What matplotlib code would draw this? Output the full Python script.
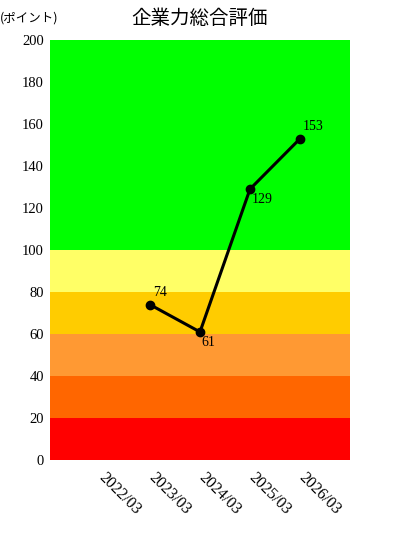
import numpy as np
import matplotlib.pyplot as plt

# データ
periods = ['2022/03', '2023/03', '2024/03', '2025/03', '2026/03']
scores = [np.nan, 74, 61, 129, 153]
label_pos = ['above', 'above', 'below', 'below', 'above']

# 評価帯 (下限, 上限, 色)
band_edges = [0, 20, 40, 60, 80, 100, 200]
band_colors = ['#FF0000', '#FF6600', '#FF9933', '#FFCC00', '#FFFF66', '#00FF00']

serif = ['Liberation Serif', 'DejaVu Serif']
jp = ['Noto Sans CJK JP', 'DejaVu Sans']

fig = plt.figure(figsize=(4, 5.4), dpi=100)
ax = fig.add_axes([0.125, 0.148, 0.75, 0.778])

for lo, hi, c in zip(band_edges[:-1], band_edges[1:], band_colors):
    ax.axhspan(lo, hi, color=c, lw=0, zorder=0)

x = np.arange(len(periods))
ax.plot(x, scores, color='black', lw=2.2, marker='o', ms=6, zorder=3)

for xi, v, pos in zip(x, scores, label_pos):
    if np.isnan(v):
        continue
    if pos == 'above':
        ax.annotate(f'{v:.0f}', (xi, v), xytext=(2, 4), textcoords='offset points',
                    ha='left', va='bottom', fontsize=10, family=serif)
    else:
        ax.annotate(f'{v:.0f}', (xi, v), xytext=(1, -3), textcoords='offset points',
                    ha='left', va='top', fontsize=10, family=serif)

ax.set_xlim(-1, 5)
ax.set_ylim(0, 200)
ax.set_yticks(range(0, 201, 20))
ax.set_xticks(x)
ax.set_xticklabels([])
# 斜めの期間ラベル
for xi, p in zip(x, periods):
    ax.annotate(p, (xi, 0), xytext=(5, -7), textcoords='offset points',
                rotation=-45, rotation_mode='anchor', ha='left', va='top',
                fontsize=11.5, family=serif, annotation_clip=False)
for t in ax.get_yticklabels():
    t.set_family(serif)
    t.set_fontsize(10.5)
ax.tick_params(axis='x', length=0)
ax.tick_params(axis='y', length=0, pad=4.5)
for s in ax.spines.values():
    s.set_visible(False)

fig.text(0.5, 0.966, '企業力総合評価', ha='center', va='center', fontsize=14, family=jp)
fig.text(0.0, 0.966, '(ポイント)', ha='left', va='center', fontsize=9, family=jp)

fig.savefig('out.png', dpi=100)
